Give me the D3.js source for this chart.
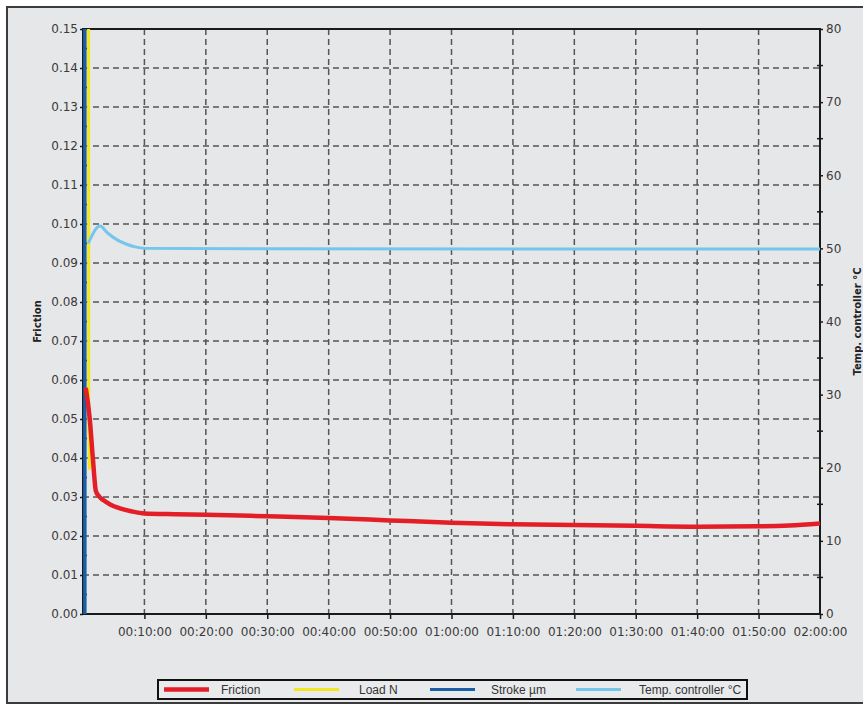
<!DOCTYPE html>
<html><head><meta charset="utf-8">
<script src="https://cdn.jsdelivr.net/npm/d3@7"></script>
<style>
html,body{margin:0;padding:0;background:#fff;}
svg{display:block;font-family:"DejaVu Sans",Verdana,sans-serif;}
</style></head>
<body><svg id="c" width="863" height="705"></svg>
<script>
// ---- data (time in minutes) ----
const frictionTime  = [0.45, 1.1, 1.6, 2.1, 2.6, 3.3, 4.5, 6.0, 8.0, 10, 15, 20, 30, 40, 50, 60, 70, 80, 90, 100, 110, 115, 120];
const frictionValue = [0.058, 0.050, 0.040, 0.0315, 0.0302, 0.0292, 0.0280, 0.0271, 0.0263, 0.0258, 0.0256, 0.02546, 0.02505, 0.0246, 0.0240, 0.0234, 0.0230, 0.0228, 0.0226, 0.0224, 0.0225, 0.0227, 0.0232];
const tempTime  = [0.86, 2.77, 4.0, 5.5, 7.0, 8.5, 10, 30, 120];
const tempValue = [50.7, 53.05, 52.1, 51.2, 50.6, 50.2, 50.0, 49.95, 49.9];
const loadTime  = [0.9, 0.93, 1.05];
const loadValue = [20, 5.0, 3.7];          // N (off-scale at start)
const strokeTime  = [0.3, 0.3];
const strokeValue = [-10, 200];            // µm (off-scale)
const frictionTicks = d3.range(0, 0.1501, 0.01);
const tempTicks = [0, 10, 20, 30, 40, 50, 60, 70, 80];
const timeTicks = [10, 20, 30, 40, 50, 60, 70, 80, 90, 100, 110, 120];
const timeLabels = ["00:10:00","00:20:00","00:30:00","00:40:00","00:50:00","01:00:00","01:10:00","01:20:00","01:30:00","01:40:00","01:50:00","02:00:00"];
const legendNames = ["Friction", "Load N", "Stroke µm", "Temp. controller °C"];
const legendColors = ["#e31e26", "#f4e61c", "#1a5ea6", "#74c6ea"];

// ---- layout ----
const svg = d3.select("#c");
const L = 83, R = 820, T = 29, B = 614;
const x = d3.scaleLinear().domain([0, 120]).range([L, R]);
const yF = d3.scaleLinear().domain([0, 0.15]).range([B, T]);
const yT = d3.scaleLinear().domain([0, 80]).range([B, T]);
const yL = d3.scaleLinear().domain([0, 15]).range([B, T]);
const yS = d3.scaleLinear().domain([0, 100]).range([B, T]);

// background frame
svg.append("rect").attr("x", 7).attr("y", 7).attr("width", 870).attr("height", 696)
  .attr("fill", "#e6e7e9").attr("stroke", "#3c3c3c").attr("stroke-width", 2);

// grid
const grid = svg.append("g").attr("stroke", "#555").attr("stroke-width", 1.5).attr("stroke-dasharray", "6,4");
grid.selectAll(".h").data(frictionTicks.slice(1, -1)).join("line")
  .attr("x1", L).attr("x2", R).attr("y1", d => yF(d)).attr("y2", d => yF(d));
grid.selectAll(".v").data(timeTicks.slice(0, -1)).join("line")
  .attr("y1", T).attr("y2", B).attr("x1", d => x(d)).attr("x2", d => x(d));

// axes
const axisColor = "#1a1a1a";
const gL = svg.append("g").attr("transform", `translate(${L},0)`)
  .call(d3.axisLeft(yF).tickValues(frictionTicks).tickFormat(d3.format(".2f")).tickSize(3).tickPadding(2));
const gR = svg.append("g").attr("transform", `translate(${R},0)`)
  .call(d3.axisRight(yT).tickValues(tempTicks).tickSize(3).tickPadding(3));
const gB = svg.append("g").attr("transform", `translate(0,${B})`)
  .call(d3.axisBottom(x).tickValues(timeTicks).tickFormat((d, i) => timeLabels[i]).tickSize(5).tickPadding(8));
[gL, gR, gB].forEach(g => {
  g.select(".domain").remove();
  g.selectAll(".tick line").attr("stroke", axisColor).attr("stroke-width", 1.5);
  g.selectAll(".tick text").attr("fill", "#3a3a3a").style("font-size", "12px").style("font-family", "DejaVu Sans");
});
// minor ticks
svg.append("g").selectAll("line").data(d3.range(0.005, 0.15, 0.01)).join("line")
  .attr("x1", L - 1).attr("x2", L + 4).attr("y1", d => yF(d)).attr("y2", d => yF(d))
  .attr("stroke", axisColor).attr("stroke-width", 1.5);
svg.append("g").selectAll("line").data(d3.range(5, 80, 10)).join("line")
  .attr("x1", R - 3).attr("x2", R + 3).attr("y1", d => yT(d)).attr("y2", d => yT(d))
  .attr("stroke", axisColor).attr("stroke-width", 1.5);

// plot frame lines
svg.append("path").attr("d", `M${L},${T}H${R}V${B}H${L}Z`).attr("fill", "none")
  .attr("stroke", axisColor).attr("stroke-width", 2);

// clip
svg.append("clipPath").attr("id", "clip").append("rect")
  .attr("x", L - 1).attr("y", T).attr("width", R - L + 1).attr("height", B - T);
const plot = svg.append("g").attr("clip-path", "url(#clip)");

const mk = (ts, vs) => ts.map((t, i) => [t, vs[i]]);
const line = (ys) => d3.line().x(d => x(d[0])).y(d => ys(d[1])).curve(d3.curveMonotoneX);

plot.append("path").datum(mk(loadTime, loadValue)).attr("d", d3.line().x(d => x(d[0])).y(d => yL(d[1])))
  .attr("fill", "none").attr("stroke", legendColors[1]).attr("stroke-width", 3);
plot.append("path").datum(mk(strokeTime, strokeValue)).attr("d", d3.line().x(d => x(d[0])).y(d => yS(d[1])))
  .attr("fill", "none").attr("stroke", legendColors[2]).attr("stroke-width", 3.5);
plot.append("path").datum(mk(tempTime, tempValue)).attr("d", line(yT))
  .attr("fill", "none").attr("stroke", legendColors[3]).attr("stroke-width", 3);
plot.append("path").datum(mk(frictionTime, frictionValue)).attr("d", line(yF))
  .attr("fill", "none").attr("stroke", legendColors[0]).attr("stroke-width", 4.5);

// axis titles
svg.append("text").attr("transform", `translate(41,${(T + B) / 2}) rotate(-90)`)
  .attr("text-anchor", "middle").style("font-size", "10px").style("font-weight", "bold")
  .attr("fill", "#222").text("Friction");
svg.append("text").attr("transform", `translate(861,${(T + B) / 2}) rotate(-90)`)
  .attr("text-anchor", "middle").style("font-size", "10px").style("font-weight", "bold")
  .attr("fill", "#222").text("Temp. controller °C");

// legend
const lg = svg.append("g");
lg.append("rect").attr("x", 158).attr("y", 680).attr("width", 589).attr("height", 19)
  .attr("fill", "#e9eaec").attr("stroke", "#111").attr("stroke-width", 2);
const lineX = [164, 294, 430, 576];
const textX = [221, 359, 491, 639];
legendNames.forEach((n, i) => {
  lg.append("line").attr("x1", lineX[i]).attr("x2", lineX[i] + 45).attr("y1", 689.5).attr("y2", 689.5)
    .attr("stroke", legendColors[i]).attr("stroke-width", i === 0 ? 4.5 : 3);
  lg.append("text").attr("x", textX[i]).attr("y", 694).style("font-family", "Liberation Sans, Arial, sans-serif")
    .style("font-size", "12px").attr("fill", "#333").text(n);
});
</script></body></html>
